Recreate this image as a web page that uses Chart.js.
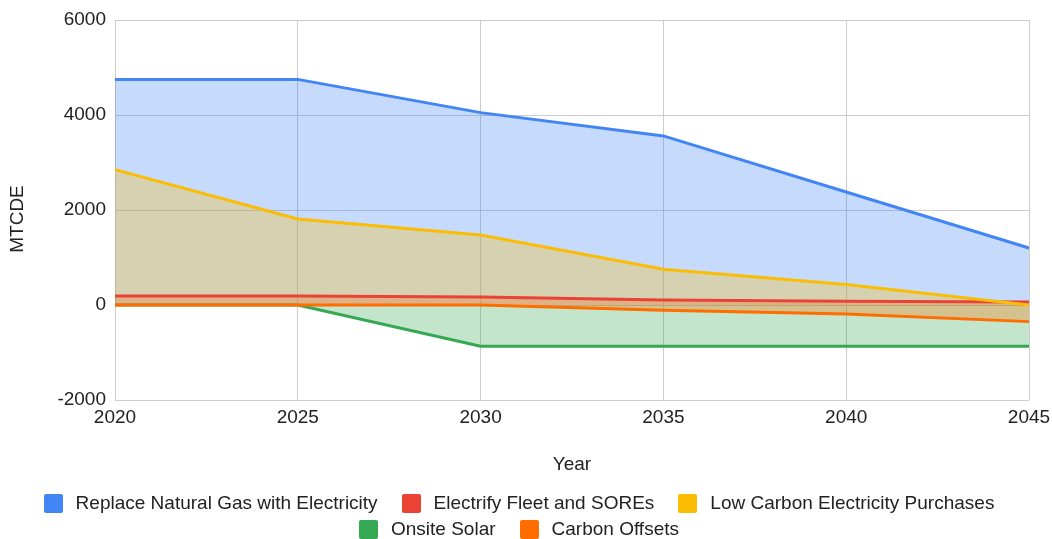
<!DOCTYPE html>
<html>
<head>
<meta charset="utf-8">
<script src="https://cdn.jsdelivr.net/npm/chart.js@4/dist/chart.umd.min.js"></script>
<style>
  html, body { margin: 0; padding: 0; background: #fff; }
  #wrap { position: relative; width: 1052px; height: 539px; }
  #c { position: absolute; left: 0; top: 0; }
  #legend { position: absolute; left: 0; top: 490px; width: 1038px; font-family: "Liberation Sans", Arial, sans-serif; font-size: 19px; color: #222; text-align: center; }
  .row { height: 26px; line-height: 26px; white-space: nowrap; }
  .item { display: inline-block; margin: 0 12px; vertical-align: top; }
  .box { display: inline-block; width: 19px; height: 19px; border-radius: 2px; vertical-align: -4px; margin-right: 13px; }
</style>
</head>
<body>
<div id="wrap">
  <canvas id="c" width="1052" height="539"></canvas>
  <div id="legend"></div>
</div>
<script>
const years = ["2020", "2025", "2030", "2035", "2040", "2045"];
const seriesNames = ["Replace Natural Gas with Electricity", "Electrify Fleet and SOREs", "Low Carbon Electricity Purchases", "Onsite Solar", "Carbon Offsets"];
const replaceGas = [4750, 4750, 4050, 3560, 2380, 1200];
const electrifyFleet = [190, 190, 170, 105, 78, 63];
const lowCarbon = [2850, 1810, 1475, 755, 430, 0];
const onsiteSolar = [0, 0, -870, -870, -870, -870];
const carbonOffsets = [0, 0, 0, -110, -190, -350];
const yTicks = [-2000, 0, 2000, 4000, 6000];
const yTitle = "MTCDE";
const xTitle = "Year";
const colors = ["#4285F4", "#EA4335", "#FBBC04", "#34A853", "#FF6D01"];

const seriesData = [replaceGas, electrifyFleet, lowCarbon, onsiteSolar, carbonOffsets];

function hexToRgba(hex, a) {
  const n = parseInt(hex.slice(1), 16);
  return `rgba(${(n >> 16) & 255},${(n >> 8) & 255},${n & 255},${a})`;
}

const datasets = seriesData.map((d, i) => ({
  label: seriesNames[i],
  data: d,
  borderColor: colors[i],
  backgroundColor: hexToRgba(colors[i], 0.3),
  borderWidth: 3,
  fill: 'origin',
  pointRadius: 0,
  tension: 0,
  order: seriesData.length - i
}));

const fontFam = '"Liberation Sans", Arial, sans-serif';
const FS = 19;
const TEXT = '#222';

// Y-axis title drawn a bit below the chart-area centre, as in the reference
const yTitlePlugin = {
  id: 'yTitle',
  afterDraw(chart) {
    const ctx = chart.ctx;
    const a = chart.chartArea;
    ctx.save();
    ctx.translate(18, (a.top + a.bottom) / 2 + 9);
    ctx.rotate(-Math.PI / 2);
    ctx.font = `${FS}px ${fontFam}`;
    ctx.fillStyle = TEXT;
    ctx.textAlign = 'center';
    ctx.textBaseline = 'middle';
    ctx.fillText(yTitle, 0, 0);
    ctx.restore();
  }
};

new Chart(document.getElementById('c'), {
  type: 'line',
  data: { labels: years, datasets },
  plugins: [yTitlePlugin],
  options: {
    responsive: false,
    animation: false,
    devicePixelRatio: 1,
    layout: { padding: { top: 20, right: 23, bottom: 63, left: 0 } },
    plugins: {
      legend: { display: false },
      tooltip: { enabled: false },
      filler: { drawTime: 'beforeDatasetsDraw' }
    },
    scales: {
      x: {
        type: 'category',
        offset: false,
        grid: { color: '#cccccc', lineWidth: 1, drawTicks: false },
        border: { display: false },
        ticks: { color: TEXT, font: { family: fontFam, size: FS }, padding: 6, maxRotation: 0, autoSkip: false },
        title: { display: true, text: xTitle, color: TEXT, font: { family: fontFam, size: FS }, padding: { top: 0, bottom: 0 } },
        afterFit: (s) => { s.height = 76; s.paddingLeft = 0; s.paddingRight = 0; }
      },
      y: {
        min: -2000,
        max: 6000,
        afterBuildTicks: (s) => { s.ticks = yTicks.map(v => ({ value: v })); },
        grid: { color: '#cccccc', lineWidth: 1, drawTicks: false },
        border: { display: false },
        ticks: { color: TEXT, font: { family: fontFam, size: FS }, padding: 9, callback: (v) => String(v) },
        title: { display: false },
        afterFit: (s) => { s.width = 115; s.paddingTop = 0; s.paddingBottom = 0; }
      }
    }
  }
});

// HTML legend built from the series arrays
const legend = document.getElementById('legend');
const rows = [[0, 1, 2], [3, 4]];
rows.forEach(r => {
  const row = document.createElement('div');
  row.className = 'row';
  r.forEach(i => {
    const it = document.createElement('span');
    it.className = 'item';
    const b = document.createElement('span');
    b.className = 'box';
    b.style.background = colors[i];
    it.appendChild(b);
    it.appendChild(document.createTextNode(seriesNames[i]));
    row.appendChild(it);
  });
  legend.appendChild(row);
});
</script>
</body>
</html>
